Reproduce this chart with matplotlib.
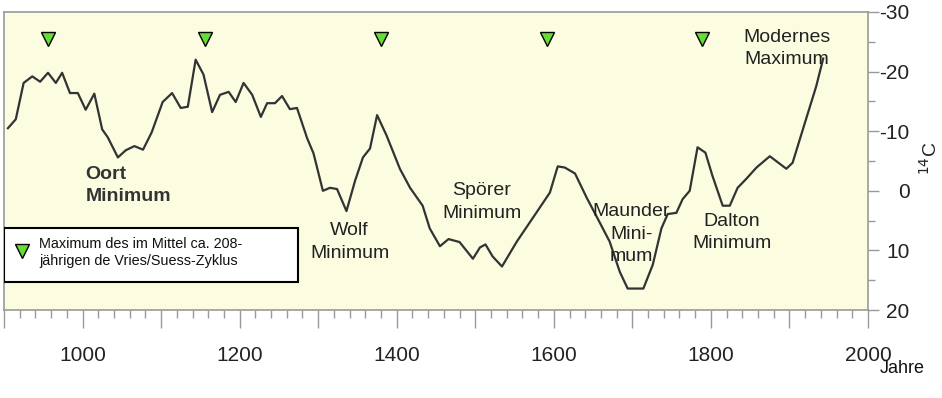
import matplotlib
matplotlib.use('Agg')
import matplotlib.pyplot as plt
from matplotlib.patches import Rectangle

plt.rcParams['font.family'] = ['Liberation Sans', 'DejaVu Sans']
plt.rcParams['axes.unicode_minus'] = False

# 14C-Verlauf (Jahr, Wert; Achse invertiert)
years = [905, 915, 925, 936, 946, 956, 966, 974, 984, 994, 1004, 1015, 1025, 1032,
         1045, 1055, 1066, 1077, 1088, 1102, 1114, 1125, 1134, 1144, 1154, 1165,
         1175, 1186, 1195, 1205, 1216, 1227, 1235, 1245, 1254, 1264, 1273, 1286,
         1294, 1306, 1315, 1324, 1336, 1347, 1357, 1366, 1375, 1387, 1404, 1417,
         1433, 1442, 1455, 1466, 1480, 1497, 1506, 1513, 1522, 1534, 1553, 1573,
         1595, 1605, 1614, 1627, 1642, 1656, 1671, 1684, 1694, 1714, 1726, 1737,
         1745, 1756, 1764, 1773, 1783, 1793, 1802, 1815, 1824, 1834, 1845, 1858,
         1875, 1896, 1904, 1922, 1934, 1943]
c14 = [-10.5, -12.0, -18.1, -19.2, -18.3, -19.8, -18.1, -19.8, -16.4, -16.4, -13.6,
       -16.3, -10.3, -9.0, -5.6, -6.8, -7.5, -6.9, -9.8, -14.9, -16.4, -13.9, -14.1,
       -22.0, -19.5, -13.2, -16.1, -16.6, -14.9, -18.1, -16.1, -12.4, -14.7, -14.7,
       -15.9, -13.7, -13.9, -8.8, -6.3, 0.0, -0.5, -0.3, 3.4, -1.7, -5.6, -7.1,
       -12.7, -9.3, -3.7, -0.5, 2.5, 6.3, 9.3, 8.1, 8.6, 11.4, 9.5, 9.0, 11.0, 12.7,
       8.5, 4.6, 0.3, -4.1, -3.9, -2.9, 1.2, 4.7, 8.5, 13.6, 16.4, 16.4, 12.4, 6.3,
       3.9, 3.7, 1.4, 0.0, -7.3, -6.4, -2.5, 2.5, 2.5, -0.5, -2.0, -3.9, -5.8, -3.7,
       -4.7, -12.4, -17.5, -22.2]

# Maxima des de Vries/Suess-Zyklus
cycle_max_years = [956, 1156, 1380, 1591, 1789]
cycle_max_level = -25.4

x_ticks = list(range(900, 2001, 100))
x_labels = ['', '1000', '', '1200', '', '1400', '', '1600', '', '1800', '', '2000']
y_ticks = [-30, -20, -10, 0, 10, 20]

# Beschriftungen: (Text, Jahr, Wert, Ausrichtung, fett)
labels = [
    ('Oort\nMinimum', 1004, -0.9, 'left', True),
    ('Wolf\nMinimum', 1340, 8.6, 'center', False),
    ('Spörer\nMinimum', 1508, 1.9, 'center', False),
    ('Maunder\nMini-\nmum', 1699, 7.3, 'center', False),
    ('Dalton\nMinimum', 1827, 7.0, 'center', False),
    ('Modernes\nMaximum', 1897, -23.9, 'center', False),
]

fig = plt.figure(figsize=(9.42, 3.98), dpi=100)
ax = fig.add_axes([4 / 942, 88 / 398, 864 / 942, 298 / 398])
ax.set_facecolor('#fcfce1')

ax.plot(years, c14, color='#333333', lw=1.6, zorder=3)
ax.plot(cycle_max_years, [cycle_max_level] * len(cycle_max_years), 'v',
        ms=10, mfc='#66dd33', mec='black', mew=1, zorder=4)

for txt, xx, yy, ha, bold in labels:
    ax.text(xx, yy, txt, ha=ha, va='center', fontsize=14,
            fontweight='bold' if bold else 'normal',
            color='#333333' if bold else '#222222', linespacing=1.42)

ax.set_xlim(900, 2000)
ax.set_ylim(20, -30)

ax.set_xticks(x_ticks)
ax.set_xticklabels(x_labels)
ax.set_xticks(range(900, 2001, 20), minor=True)
ax.tick_params(axis='x', which='major', length=13, width=1, color='#999999',
               labelsize=15, pad=13, labelcolor='#222222')
ax.tick_params(axis='x', which='minor', length=6, width=1, color='#999999')

ax.yaxis.tick_right()
ax.set_yticks(y_ticks)
ax.set_yticklabels([str(v) for v in y_ticks])
ax.set_yticks(range(-30, 21, 5), minor=True)
ax.tick_params(axis='y', which='major', length=8, width=1, color='#999999',
               labelsize=15, pad=22, labelcolor='#222222')
ax.tick_params(axis='y', which='minor', length=5, width=1, color='#999999')
for lab in ax.get_yticklabels():
    lab.set_horizontalalignment('right')

for sp in ax.spines.values():
    sp.set_color('#999999')
    sp.set_linewidth(1.2)

ax.text(1.0718, 0.51, '$^{14}$C', transform=ax.transAxes, rotation=90,
        ha='center', va='center', fontsize=14, color='#222222')
ax.text(1.014, -0.197, 'Jahre', transform=ax.transAxes, ha='left', va='center',
        fontsize=13, color='#111111')

# Legendenkasten
ax.add_patch(Rectangle((0.0, 0.094), 0.340, 0.181, transform=ax.transAxes,
                       facecolor='white', edgecolor='black', lw=1.5, zorder=5))
ax.plot([0.021], [0.199], 'v', transform=ax.transAxes, ms=10, mfc='#66dd33',
        mec='black', mew=1, zorder=6, clip_on=False)
ax.text(0.0405, 0.192, 'Maximum des im Mittel ca. 208-\njährigen de Vries/Suess-Zyklus',
        transform=ax.transAxes, ha='left', va='center', fontsize=10.4,
        color='#111111', linespacing=1.3, zorder=6)

fig.savefig('out.png', dpi=100, facecolor='white')
